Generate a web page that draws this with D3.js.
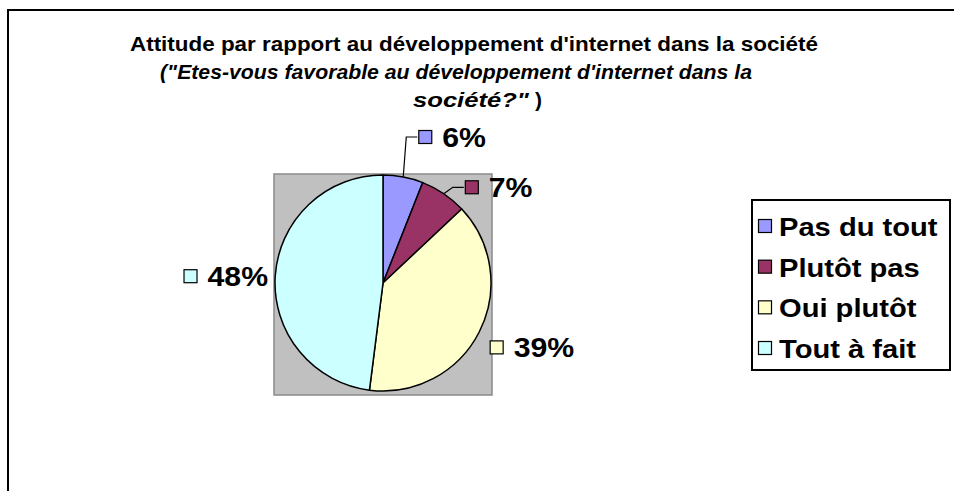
<!DOCTYPE html>
<html>
<head>
<meta charset="utf-8">
<script src="https://cdn.jsdelivr.net/npm/d3@7"></script>
<style>
  html, body { margin: 0; padding: 0; background: #fff; }
  svg { display: block; font-family: "Liberation Sans", Arial, sans-serif; }
</style>
</head>
<body>
<svg id="chart" width="954" height="491"></svg>
<script>
// ---- data ----
const categories = ["Pas du tout", "Plutôt pas", "Oui plutôt", "Tout à fait"];
const values = [6, 7, 39, 48];
const colors = ["#9999ff", "#993366", "#ffffcc", "#ccffff"];
const titleLines = [
  "Attitude par rapport au développement d'internet dans la société",
  "(\"Etes-vous favorable au développement d'internet dans la",
  "société?\")"
];

const svg = d3.select("#chart");
const W = 954, H = 491;
const STRETCH = 1.12;
function widen(sel) {
  const w = sel.node().getComputedTextLength();
  sel.attr("textLength", w * STRETCH).attr("lengthAdjust", "spacingAndGlyphs");
  return w * STRETCH;
}

// outer chart frame (left + top only visible)
svg.append("path")
  .attr("d", `M8,${H} L8,10 L${W},10`)
  .attr("fill", "none").attr("stroke", "#000").attr("stroke-width", 2);

// title
const title = svg.append("g").attr("font-weight", "bold").attr("font-size", 21).attr("fill", "#000");
title.append("text").attr("x", 130).attr("y", 51)
  .attr("textLength", 688).attr("lengthAdjust", "spacingAndGlyphs").text(titleLines[0]);
title.append("text").attr("x", 160).attr("y", 79)
  .attr("textLength", 592).attr("lengthAdjust", "spacingAndGlyphs")
  .attr("font-style", "italic").text(titleLines[1]);
const t3 = title.append("text").attr("x", 413).attr("y", 107);
t3.append("tspan").attr("font-style", "italic")
  .attr("textLength", 116).attr("lengthAdjust", "spacingAndGlyphs")
  .text(titleLines[2].slice(0, -1));
t3.append("tspan").attr("dx", 6).text(titleLines[2].slice(-1));

// plot area
const cx = 383, cy = 283, r = 108;
svg.append("rect")
  .attr("x", cx - r - 1).attr("y", cy - r - 1)
  .attr("width", 2 * r + 2).attr("height", 2 * r + 5)
  .attr("fill", "#c0c0c0").attr("stroke", "#8a8a8a").attr("stroke-width", 1.5);

const pie = d3.pie().sort(null).value(d => d)(values);
const arc = d3.arc().innerRadius(0).outerRadius(r);
const g = svg.append("g").attr("transform", `translate(${cx},${cy})`);
g.selectAll("path.slice").data(pie).join("path")
  .attr("class", "slice")
  .attr("d", arc)
  .attr("fill", (d, i) => colors[i])
  .attr("stroke", "#000").attr("stroke-width", 1.5).attr("stroke-linejoin", "round");

// data labels
const labelArc = d3.arc().innerRadius(r * 1.15).outerRadius(r * 1.15);
const edgeArc = d3.arc().innerRadius(r).outerRadius(r);
const nudge = [[12, -24], [12, 7], [-4, 8], [9, 1]];
const leader = [true, true, false, false];
pie.forEach((d, i) => {
  const c = labelArc.centroid(d);
  const px = c[0] + nudge[i][0], py = c[1] + nudge[i][1];
  const right = (d.startAngle + d.endAngle) / 2 < Math.PI;
  const lg = g.append("g");
  if (leader[i]) {
    const e = edgeArc.centroid(d);
    lg.append("polyline")
      .attr("points", [[e[0], e[1]], [px - 12, py], [px - 1, py]].map(p => p.join(",")).join(" "))
      .attr("fill", "none").attr("stroke", "#000").attr("stroke-width", 1.2);
  }
  const txt = lg.append("text")
    .attr("font-weight", "bold").attr("font-size", 27)
    .attr("dominant-baseline", "central")
    .text(values[i] + "%");
  const tw = widen(txt);
  const total = 14 + 10 + tw;
  const x0 = right ? px : px - total;
  lg.append("rect").attr("x", x0 + 0.5).attr("y", py - 6.5).attr("width", 13).attr("height", 13)
    .attr("fill", colors[i]).attr("stroke", "#000").attr("stroke-width", 1.2);
  txt.attr("x", x0 + 24).attr("y", py + 1);
});

// legend
const lx = 752, ly = 200, lw = 198, lh = 170;
svg.append("rect").attr("x", lx).attr("y", ly).attr("width", lw).attr("height", lh)
  .attr("fill", "#fff").attr("stroke", "#000").attr("stroke-width", 2);
const yLeg = d3.scalePoint().domain(categories).range([ly + 26, ly + lh - 22]);
const leg = svg.append("g");
categories.forEach((c, i) => {
  const y = yLeg(c);
  leg.append("rect").attr("x", lx + 6.5).attr("y", y - 6.5).attr("width", 13).attr("height", 13)
    .attr("fill", colors[i]).attr("stroke", "#000").attr("stroke-width", 1.2);
  const t = leg.append("text").attr("x", lx + 27).attr("y", y + 1)
    .attr("dominant-baseline", "central")
    .attr("font-weight", "bold").attr("font-size", 26).text(c);
  widen(t);
});
</script>
</body>
</html>
